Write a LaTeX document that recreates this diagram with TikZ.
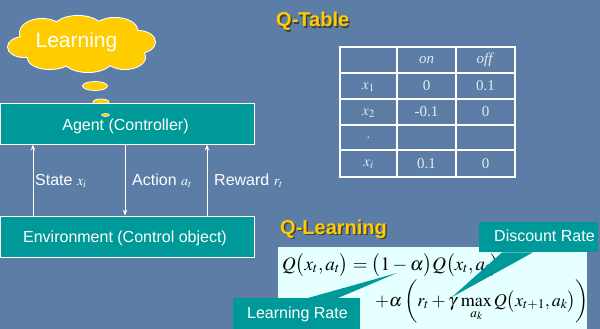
\documentclass[tikz,border=0pt]{standalone}
\usepackage{mathptmx}
\usepackage{fontspec}
\setmainfont{Liberation Sans}
\newfontfamily\tnr{Liberation Serif}
\usetikzlibrary{shapes.geometric,arrows.meta}
\definecolor{bgblue}{HTML}{5C7DA6}
\definecolor{teal1}{HTML}{009999}
\definecolor{qyellow}{HTML}{FFCC00}
\definecolor{eqbg}{HTML}{E6FFFF}
\definecolor{celltxt}{HTML}{E4EAF0}
\tikzset{
  box/.style={draw=white, line width=1pt, fill=teal1, inner sep=0pt},
  boxtxt/.style={text=white, font=\fontsize{16}{18}\selectfont, inner sep=0pt, anchor=base west},
  arr/.style={draw=white, line width=1pt, -{Stealth[length=6pt,width=4.5pt]}},
  titletxt/.style={font=\bfseries\fontsize{20}{24}\selectfont, inner sep=0pt, anchor=base west},
  cell/.style={text=celltxt, font=\tnr\fontsize{15}{17}\selectfont, inner sep=0pt},
  gridline/.style={draw=white, line width=1.3pt},
  bubble/.style={ellipse, fill=qyellow, draw=white, line width=0.8pt, inner sep=0pt},
  callout/.style={fill=teal1, draw=none},
  calloutbox/.style={fill=teal1, draw=none, inner sep=0pt, anchor=north west},
}
\newcommand{\cloudpath}{%
  (42,33) ellipse [x radius=22, y radius=14]
  (78,28) ellipse [x radius=24, y radius=12]
  (115,30) ellipse [x radius=22, y radius=12]
  (138,42) ellipse [x radius=17, y radius=11]
  (125,57) ellipse [x radius=20, y radius=12]
  (88,60) ellipse [x radius=24, y radius=12]
  (50,58) ellipse [x radius=22, y radius=11]
  (24,47) ellipse [x radius=16, y radius=10]
  (80,45) ellipse [x radius=55, y radius=18]}
\begin{document}
\begin{tikzpicture}[x=1pt,y=-1pt]
\useasboundingbox (0,0) rectangle (600,329);
\fill[bgblue] (0,0) rectangle (600,329);

% Thought cloud
\draw[white, line width=2pt] \cloudpath;
\fill[qyellow] \cloudpath;
\node[text=white, font=\fontsize{21}{24}\selectfont, inner sep=0pt, anchor=base] (learn) at (76.5,48) {Learning};
\node[bubble, minimum width=25pt, minimum height=9pt] (b1) at (95,86) {};
\node[bubble, minimum width=16pt, minimum height=6pt] (b2) at (101,102) {};

% Agent and environment
\node[box, minimum width=254pt, minimum height=41pt] (agent) at (127,123.5) {};
\node[boxtxt, anchor=base] (agenttxt) at (125.5,130) {Agent (Controller)};
\node[bubble, minimum width=8pt, minimum height=3pt, line width=0.5pt] (b3) at (105.5,115) {};
\node[box, minimum width=254pt, minimum height=41pt] (env) at (127,236.5) {};
\node[boxtxt, anchor=base] (envtxt) at (125,242) {Environment (Control object)};

% Arrows
\draw[arr] (33,0 |- env.north) -- (33,0 |- agent.south);
\draw[arr] (125,0 |- agent.south) -- (125,0 |- env.north);
\draw[arr] (207,0 |- env.north) -- (207,0 |- agent.south);
\node[boxtxt] (statelbl) at (35,185) {State {\fontsize{14}{16}\selectfont$x_i$}};
\node[boxtxt] (actionlbl) at (132,185) {Action {\fontsize{14}{16}\selectfont$a_t$}};
\node[boxtxt] (rewardlbl) at (214,185) {Reward {\fontsize{14}{16}\selectfont$r_t$}};

% Q-Table title
\node[titletxt, text=black!75] at (277.5,28.5) {Q-Table};
\node[titletxt, text=qyellow] (qtable) at (276,27) {Q-Table};

% Table
\draw[gridline] (340,47) rectangle (515,177);
\foreach \yy in {73,99,125,150} \draw[gridline] (340,\yy) -- (515,\yy);
\foreach \xx in {397,456} \draw[gridline] (\xx,47) -- (\xx,177);
\node[cell] (h1) at (426.5,60) {\textit{on}};
\node[cell] (h2) at (485.5,60) {\textit{off}};
\node[cell] (r1) at (368.5,87) {$x_1$};
\node[cell] (c11) at (426.5,86) {0};
\node[cell] (c12) at (485.5,86) {0.1};
\node[cell] (r2) at (368.5,113) {$x_2$};
\node[cell] (c21) at (426.5,112) {-0.1};
\node[cell] (c22) at (485.5,112) {0};
\node[cell] (r3) at (368.5,138) {$\cdot$};
\node[cell] (r4) at (368.5,164) {$x_i$};
\node[cell] (c41) at (426.5,163.5) {0.1};
\node[cell] (c42) at (485.5,163.5) {0};

% Q-Learning title
\node[titletxt, text=black!75] at (281.5,235.5) {Q-Learning};
\node[titletxt, text=qyellow] (qlearn) at (280,234) {Q-Learning};

% Equation
\node[fill=eqbg, minimum width=309pt, minimum height=82pt, inner sep=0pt, anchor=north west] (eqbox) at (278,247) {};
\node[anchor=base west, inner sep=0pt, font=\fontsize{19}{22}\selectfont] (eq1) at (282,270)
  {$Q\bigl(x_t,a_t\bigr)=\bigl(1-\alpha\bigr)Q\bigl(x_t,a_t\bigr)$};
\node[anchor=base west, inner sep=0pt, font=\fontsize{18}{22}\selectfont] (eq2) at (375,306)
  {$+\alpha\left(r_t+\gamma\,\max\limits_{a_k}Q\bigl(x_{t+1},a_k\bigr)\right)$};

% Callouts
\node[calloutbox, minimum width=119pt, minimum height=30pt] (disc) at (479,222) {};
\coordinate (dtip) at (452,297);
\fill[callout] (502,0 |- disc.south) -- (533,0 |- disc.south) -- (dtip) -- cycle;
\node[boxtxt] (disctxt) at (494,241) {Discount Rate};

\node[calloutbox, minimum width=127pt, minimum height=34pt] (lrate) at (233,298) {};
\coordinate (ltip) at (397,273);
\fill[callout] (308,0 |- lrate.north) -- (338,0 |- lrate.north) -- (ltip) -- cycle;
\node[boxtxt] (lratetxt) at (247,318) {Learning Rate};
\end{tikzpicture}
\end{document}
